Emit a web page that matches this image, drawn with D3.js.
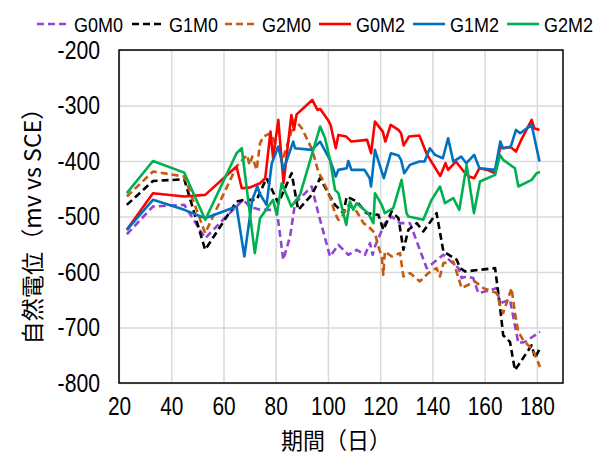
<!DOCTYPE html>
<html>
<head>
<meta charset="utf-8">
<script src="https://cdn.jsdelivr.net/npm/d3@7"></script>
<style>
  body { margin: 0; background: #fff; }
  text { font-family: "Noto Sans CJK JP", "Noto Sans", sans-serif; }
  .num { font-family: "Liberation Sans Narrow", "Liberation Sans", sans-serif; }
</style>
</head>
<body>
<svg id="chart" width="602" height="457"></svg>
<script>
// series names (legend order)
const seriesNames = ['G0M0', 'G1M0', 'G2M0', 'G0M2', 'G1M2', 'G2M2'];

// [day, potential mV]
const g0m0 = [[23,-532],[33,-482],[45,-479],[53,-539],[60,-505],[67.6,-470],[70,-482],[74,-488],[80.4,-488],[82.9,-578],[85.5,-536],[87.4,-476],[93.8,-446],[96.3,-494],[100.8,-572],[104,-551],[107.8,-569],[111,-560],[114.2,-569],[116.1,-548],[117.1,-569],[118,-554],[121.8,-512],[124.4,-500],[127.6,-512],[131.4,-512],[137.8,-593],[144.2,-569],[150,-593],[151.2,-611],[153.1,-608],[155.6,-611],[157.6,-638],[162.7,-632],[164.6,-629],[165.9,-656],[169.7,-650],[172.9,-728],[175.4,-726],[181.2,-708]];
const g1m0 = [[23,-479],[33,-436],[45,-433],[53,-560],[65,-473],[68,-470],[72.7,-470],[76.5,-431],[81,-476],[86.1,-422],[88.6,-488],[93.8,-461],[97,-431],[100.8,-464],[102.7,-479],[105.9,-494],[107.2,-464],[111,-473],[114.8,-494],[119.3,-497],[121.2,-524],[124.4,-491],[127,-503],[128.9,-560],[130.8,-524],[134,-512],[136.5,-527],[141.6,-494],[144.2,-563],[149.3,-578],[150.6,-593],[152.5,-599],[164,-593],[165.9,-663],[167.1,-714],[169.7,-726],[171.6,-777],[178,-732],[179.3,-755],[181.2,-737]];
const g2m0 = [[23,-464],[33,-419],[45,-428],[53,-530],[65,-410],[69,-389],[70,-407],[71,-392],[72.7,-416],[74,-368],[75.3,-356],[78,-350],[81,-380],[83,-392],[87.4,-326],[90,-341],[94,-380],[96.3,-419],[98,-434],[100.8,-464],[102.7,-494],[104,-506],[105,-503],[108,-479],[111,-491],[113.6,-512],[115.5,-518],[118,-530],[119.3,-554],[120.6,-572],[121.2,-605],[121.8,-563],[124.4,-572],[127.6,-566],[128.9,-608],[131.4,-602],[135.2,-617],[138.4,-602],[141.6,-593],[142.9,-608],[144.2,-584],[148,-581],[151.2,-629],[156.3,-617],[159.5,-629],[164.6,-638],[165.9,-660],[167.1,-674],[170.3,-629],[171.6,-674],[172.9,-708],[174.8,-723],[178.6,-741],[181.2,-771]];
const g0m2 = [[23,-524],[33,-458],[45,-464],[53,-461],[65,-410],[67,-449],[70,-448],[74,-440],[76,-431],[78,-347],[79,-395],[81,-326],[83,-440],[86,-317],[87,-344],[88,-316],[94,-290],[96,-308],[97,-306],[100,-326],[101,-335],[103,-377],[104,-353],[107,-356],[109,-365],[115,-362],[116.5,-386],[118,-329],[121,-347],[122,-365],[124,-335],[127,-344],[128,-350],[129,-372],[131,-356],[135,-354],[138,-389],[143,-427],[145,-404],[146,-416],[149,-401],[152,-419],[154,-428],[156,-431],[158,-413],[161,-416],[164,-422],[166,-374],[167,-377],[170,-375],[172,-383],[174,-362],[178,-326],[179,-341],[181,-344]];
const g1m2 = [[23,-524],[33,-470],[45,-488],[53,-503],[65,-482],[68,-572],[71,-470],[73,-446],[74,-460],[76.5,-479],[78.5,-404],[81,-374],[83,-416],[86.7,-365],[87.4,-377],[93.8,-380],[97,-365],[100.8,-398],[103,-428],[104,-416],[107.2,-413],[107.8,-400],[109,-416],[114,-416],[116,-431],[116.5,-446],[118,-380],[120,-410],[121.4,-431],[124.1,-386],[127,-390],[128,-398],[129.2,-422],[131.4,-407],[135,-401],[137,-401],[139,-377],[141,-389],[144,-395],[146,-359],[148,-401],[151,-392],[153,-404],[156,-389],[158,-413],[164,-416],[166,-365],[167,-377],[170,-374],[172,-344],[173.6,-350],[178,-335],[181,-401]];
const g2m2 = [[23,-458],[33,-400],[45,-421],[53,-506],[65,-386],[67,-377],[72,-566],[74,-503],[79,-470],[80.4,-497],[82.3,-440],[86,-482],[89.3,-461],[97,-338],[98.9,-359],[100.8,-398],[102.7,-452],[104,-458],[107,-515],[108.4,-473],[109.7,-488],[111,-476],[115.4,-494],[117.4,-512],[118,-458],[120.6,-479],[121.8,-494],[125,-485],[128.2,-434],[130.1,-494],[130.8,-500],[136.5,-506],[139.7,-470],[142.9,-446],[144.8,-476],[148,-467],[150.3,-488],[153.1,-407],[155.9,-494],[158.2,-437],[164,-425],[165.9,-389],[167.1,-398],[171.6,-413],[172.9,-446],[178,-434],[179.9,-422],[181.2,-420]];

const seriesData = [g0m0, g1m0, g2m0, g0m2, g1m2, g2m2];
const colors = ['#9044D4', '#000000', '#C55A11', '#FF0000', '#0070C0', '#00B050'];
const dashed = [true, true, true, false, false, false];

const xTicks = [20, 40, 60, 80, 100, 120, 140, 160, 180];
const yTicks = [-200, -300, -400, -500, -600, -700, -800];

const margin = {top: 50, right: 39, bottom: 74, left: 119};
const svg = d3.select('#chart');
const width = 602 - margin.left - margin.right;
const height = 457 - margin.top - margin.bottom;

// half-width glyphs in the original are narrow, so squeeze text a bit
const charW = 11.6;

const x = d3.scaleLinear().domain([20, 190]).range([0, width]);
const y = d3.scaleLinear().domain([-800, -200]).range([height, 0]);

const g = svg.append('g')
  .attr('transform', `translate(${margin.left},${margin.top})`);

// grid
g.append('g')
  .attr('transform', `translate(0,${height})`)
  .call(d3.axisBottom(x).tickValues(xTicks).tickSize(-height).tickFormat(''))
  .call(s => s.select('.domain').remove())
  .selectAll('line').attr('stroke', '#d9d9d9').attr('stroke-width', 1.5);
g.append('g')
  .call(d3.axisLeft(y).tickValues(yTicks).tickSize(-width).tickFormat(''))
  .call(s => s.select('.domain').remove())
  .selectAll('line').attr('stroke', '#d9d9d9').attr('stroke-width', 1.5);

// lines
const line = d3.line()
  .x(d => x(d[0]))
  .y(d => y(d[1]));

seriesData.forEach((data, i) => {
  g.append('path')
    .datum(data)
    .attr('fill', 'none')
    .attr('stroke', colors[i])
    .attr('stroke-width', 2.6)
    .attr('stroke-linejoin', 'round')
    .attr('stroke-dasharray', dashed[i] ? '7,4' : null)
    .attr('d', line);
});

// plot frame
g.append('rect')
  .attr('width', width).attr('height', height)
  .attr('fill', 'none').attr('stroke', '#000').attr('stroke-width', 1.5);

// tick labels
g.append('g')
  .attr('transform', `translate(0,${height})`)
  .call(d3.axisBottom(x).tickValues(xTicks).tickSize(0).tickPadding(14))
  .call(s => s.select('.domain').remove())
  .selectAll('text')
  .attr('class', 'num')
  .attr('font-size', 25).attr('fill', '#000')
  .attr('textLength', d => String(d).length * charW)
  .attr('lengthAdjust', 'spacingAndGlyphs')
  .style('font-family', null);

g.append('g')
  .call(d3.axisLeft(y).tickValues(yTicks).tickSize(0).tickPadding(19)
    .tickFormat(d => d < 0 ? '-' + Math.abs(d) : d))
  .call(s => s.select('.domain').remove())
  .selectAll('text')
  .attr('class', 'num')
  .attr('font-size', 25).attr('fill', '#000')
  .attr('textLength', d => String(d).length * charW - 4)
  .attr('lengthAdjust', 'spacingAndGlyphs')
  .style('font-family', null);

// axis titles
svg.append('text')
  .attr('x', 336).attr('y', 449)
  .attr('text-anchor', 'middle')
  .attr('font-size', 23)
  .attr('textLength', 110)
  .attr('lengthAdjust', 'spacingAndGlyphs')
  .text('期間（日）');

svg.append('text')
  .attr('transform', `translate(41,${margin.top + height / 2 + 4}) rotate(-90)`)
  .attr('text-anchor', 'middle')
  .attr('font-size', 23)
  .attr('textLength', 248)
  .attr('lengthAdjust', 'spacingAndGlyphs')
  .text('自然電位（mv vs SCE）');

// legend
const legendX = [37, 132, 225, 319, 413, 507];
const legend = svg.append('g');
seriesNames.forEach((name, i) => {
  legend.append('line')
    .attr('x1', legendX[i]).attr('x2', legendX[i] + 32)
    .attr('y1', 24).attr('y2', 24)
    .attr('stroke', colors[i]).attr('stroke-width', 2.6)
    .attr('stroke-dasharray', dashed[i] ? '7,4' : null);
  legend.append('text')
    .attr('class', 'num')
    .attr('x', legendX[i] + 37).attr('y', 32)
    .attr('font-size', 20)
    .attr('textLength', 49)
    .attr('lengthAdjust', 'spacingAndGlyphs')
    .text(name);
});
</script>
</body>
</html>
